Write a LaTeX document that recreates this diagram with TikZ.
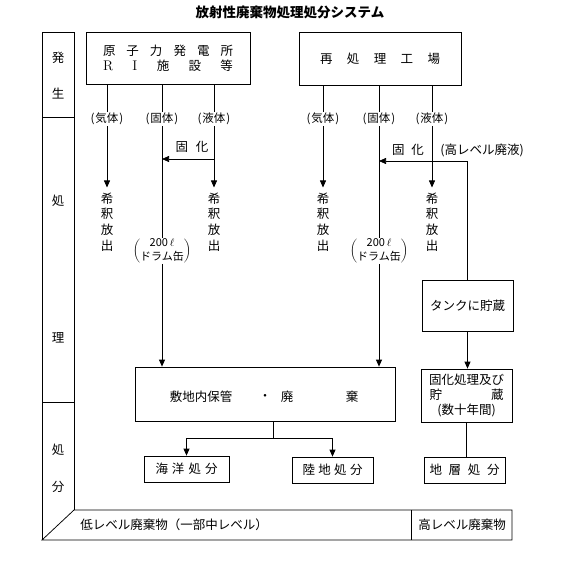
\documentclass[tikz,border=0pt]{standalone}
\usepackage{fontspec}
\newfontfamily\jp{Noto Sans CJK JP}
\usetikzlibrary{arrows.meta,calc}
\tikzset{
 ln/.style={line width=0.75bp, draw=black},
 arr/.style={ln, -{Triangle[length=7bp,width=6bp]}},
 box/.style={ln, rectangle, inner sep=0pt, font=\jp\fontsize{12.5bp}{15bp}\selectfont, align=center},
 txt/.style={inner sep=0pt, font=\jp\fontsize{12.5bp}{15bp}\selectfont, align=center},
 lab/.style={inner sep=1bp, font=\jp\fontsize{11.5bp}{13bp}\selectfont},
 vtxt/.style={inner xsep=0pt, inner ysep=5bp, font=\jp\fontsize{12.5bp}{15.7bp}\selectfont, align=center},
 paren/.style={inner sep=0pt},
}
\newcommand{\drum}{$\left(\vcenter{\hbox{\jp\fontsize{11bp}{12.5bp}\selectfont\begin{tabular}{@{}c@{}}200\,$\ell$\\ドラム缶\end{tabular}}}\right)$}
\begin{document}
\begin{tikzpicture}[x=1bp,y=-1bp]
\useasboundingbox (0,0) rectangle (579,567);
\node[txt, font=\jp\bfseries\fontsize{13.5bp}{16bp}\selectfont] (title) at (290,12) {放射性廃棄物処理処分システム};

% left column and bottom band
\draw[ln] (42,540) -- (42,32) -- (74,32) -- (74,510);
\draw[ln] (42,117) -- (74,117);
\draw[ln] (42,402) -- (74,402);
\draw[ln] (42,540) -- (512,540) -- (512,510) -- (74,510) -- cycle;
\draw[ln] (411,510) -- (411,540);
\node[txt] (k1) at (58,58) {発};
\node[txt] (k2) at (58,94) {生};
\node[txt] (k3) at (58,201) {処};
\node[txt] (k4) at (58,338) {理};
\node[txt] (k5) at (58,450) {処};
\node[txt] (k6) at (58,487) {分};
\node[txt] (low) at (174,525) {低レベル廃棄物（一部中レベル）};
\node[txt] (high) at (462,525) {高レベル廃棄物};

% sources
\node[box, minimum width=164bp, minimum height=52bp] (src1) at (168,58)
 {\makebox[130bp][s]{原\hfill 子\hfill 力\hfill 発\hfill 電\hfill 所}\\
  \makebox[130bp][s]{\rmfamily\fontsize{14bp}{15bp}\selectfont R\hfill I\hfill \jp\fontsize{12.5bp}{15bp}\selectfont 施\hfill 設\hfill 等}};
\node[box, minimum width=162bp, minimum height=53bp] (src2) at (380,58.5)
 {\makebox[120bp][s]{再\hfill 処\hfill 理\hfill 工\hfill 場}};

% phase labels
\node[lab] (g1) at (107,119) {(\kern1bp 気体\kern1bp)};
\node[lab] (s1) at (162,119) {(\kern1bp 固体\kern1bp)};
\node[lab] (l1) at (214,119) {(\kern1bp 液体\kern1bp)};
\node[lab] (g2) at (323,119) {(\kern1bp 気体\kern1bp)};
\node[lab] (s2) at (379,119) {(\kern1bp 固体\kern1bp)};
\node[lab] (l2) at (432,119) {(\kern1bp 液体\kern1bp)};
\foreach \s/\n in {src1/g1,src1/s1,src1/l1,src2/g2,src2/s2,src2/l2}
  \draw[ln] (\s.south -| \n) -- (\n.north);

% dilution release
\node[vtxt] (d1) at (107,222) {希\\釈\\放\\出};
\node[vtxt] (d2) at (214,222) {希\\釈\\放\\出};
\node[vtxt] (d3) at (323,222) {希\\釈\\放\\出};
\node[vtxt] (d4) at (432,222) {希\\釈\\放\\出};
\draw[arr] (g1.south) -- (d1.north);
\draw[arr] (l1.south) -- (d2.north);
\draw[arr] (g2.south) -- (d3.north);
\draw[arr] (l2.south) -- (d4.north);

% drums
\node[paren] (p1) at (162,251) {\drum};
\node[paren] (p2) at (379,251) {\drum};

% storage box
\node[box, minimum width=260bp, minimum height=54bp] (store) at (265,394) {};
\node[txt] (st1) at (201,397) {敷地内保管};
\node[txt] (st2) at (265,397) {・};
\node[txt] (st3) at (287,397) {廃};
\node[txt] (st4) at (352,397) {棄};

\draw[ln] (s1.south) -- (p1.north);
\draw[arr] (p1.south) -- (store.north -| p1);
\draw[ln] (s2.south) -- (p2.north);
\draw[arr] (p2.south) -- (store.north -| p2);

% solidification (left)
\coordinate (b1) at (214,159);
\draw[arr] (b1) -- (b1 -| s1);
\node[txt] (f1) at (192,147) {固\hspace{8bp}化};

% high level path
\node[box, minimum width=91bp, minimum height=51bp] (tank) at (467.5,305.5) {タンクに貯蔵};
\node[box, minimum width=91bp, minimum height=53bp] (solid) at (466.5,395.5)
 {固化処理及び\\\makebox[74bp][s]{貯\hfill 蔵}\\(数十年間)};
\coordinate (b2) at (467,161);
\draw[arr] (tank.north -| b2) -- (b2) -- (b2 -| s2);
\node[txt] (f2) at (408,150) {固\hspace{7bp}化};
\node[txt] (hl) at (482,150) {(高レベル廃液)};
\draw[arr] (tank.south) -- (tank.south |- solid.north);

% disposal
\node[box, minimum width=85bp, minimum height=26bp] (sea) at (186.5,469)
 {\makebox[62bp][s]{海\hfill 洋\hfill 処\hfill 分}};
\node[box, minimum width=81bp, minimum height=26bp] (land) at (332.5,470)
 {\makebox[60bp][s]{陸\hfill 地\hfill 処\hfill 分}};
\node[box, minimum width=81bp, minimum height=26bp] (geo) at (464.5,470)
 {\makebox[70bp][s]{地\hfill 層\hfill 処\hfill 分}};
\coordinate (j) at (273,438);
\draw[ln] (store.south -| j) -- (j);
\draw[arr] (j) -| (sea.north);
\draw[arr] (j) -| (land.north);
\draw[ln] (solid.south) -- (solid.south |- geo.north);
\end{tikzpicture}
\end{document}
